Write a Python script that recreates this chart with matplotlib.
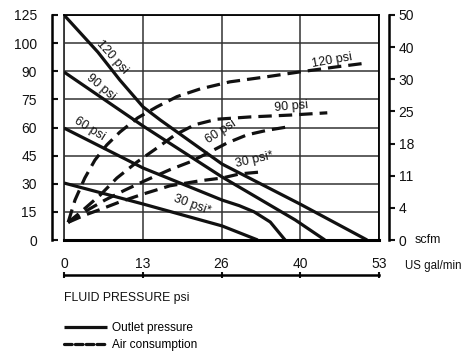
import numpy as np
import matplotlib
matplotlib.use("Agg")
import matplotlib.pyplot as plt
from matplotlib.lines import Line2D

plt.rcParams['font.family'] = ['Liberation Sans', 'DejaVu Sans']
plt.rcParams['font.size'] = 10

# axis labels (non-linear tick spacing in the original)
psi_ticks = [0, 15, 30, 45, 60, 75, 90, 100, 125]
scfm_ticks = [0, 4, 11, 18, 25, 30, 40, 50]
gpm_labels = ['0', '13', '26', '40', '53']

# outlet pressure (psi) vs flow (US gal/min)
out120_x = [0, 5.7, 9.4, 13.3, 16.2, 26.6, 39.7, 51.0]
out120_y = [125, 96.8, 85.3, 71, 64, 40.5, 19.2, 0]
out90_x = [0, 13.3, 26.6, 38.9, 43.9]
out90_y = [89.6, 60.8, 33.6, 10.7, 0]
out60_x = [0, 13.3, 26.6, 29.5, 32.0, 34.7, 37.2]
out60_y = [59.7, 38.4, 21.3, 18.3, 15.0, 9.6, 0]
out30_x = [0, 13.3, 26.6, 32.6]
out30_y = [30.4, 19.2, 7.5, 0]

# air consumption (scfm) vs flow (US gal/min)
air120_x = [0.7, 1.85, 3.5, 5.2, 7.2, 9.4, 12.4, 15.6, 19.0, 22.9, 27.9, 33.8, 39.7, 45.6, 51.1]
air120_y = [2.2, 5.7, 10.5, 14.4, 17.7, 20.5, 23.6, 25.7, 27.3, 28.5, 29.6, 30.7, 32.3, 33.8, 35.1]
air90_x = [0.7, 2.7, 6.1, 8.9, 12.3, 15.6, 18.7, 22.0, 25.7, 31.3, 38.0, 44.3]
air90_y = [2.2, 3.4, 6.8, 10.5, 14.0, 17.0, 19.9, 22.1, 23.3, 23.8, 24.2, 24.7]
air60_x = [0.7, 3.9, 6.9, 10.3, 13.6, 17.8, 21.2, 24.6, 27.4, 30.8, 34.2, 37.5]
air60_y = [2.2, 3.7, 5.7, 7.9, 9.9, 12.3, 14.0, 16.2, 18.1, 19.9, 20.9, 21.6]
air30_x = [0.7, 3.5, 6.1, 9.4, 13.3, 17.8, 22.9, 26.6, 29.6, 33.0]
air30_y = [2.2, 3.1, 3.8, 5.3, 7.0, 8.8, 9.9, 10.5, 11.4, 11.8]

W, H = 469, 353
fig = plt.figure(figsize=(W / 100, H / 100), dpi=100)
L, R, T, B = 64, 379, 15, 240
ax = fig.add_axes([L / W, (H - B) / H, (R - L) / W, (B - T) / H])

def scale_funcs(ticks):
    pos = np.arange(len(ticks), dtype=float)
    return (lambda v: np.interp(v, ticks, pos), lambda v: np.interp(v, pos, ticks))

ink = '#111111'
ax.set_yscale('function', functions=scale_funcs(psi_ticks))
ax.set_ylim(0, 125)
ax.set_xlim(0, 53)
xt = np.linspace(0, 53, 5)
ax.set_xticks(xt)
ax.set_yticks(psi_ticks)
ax.set_yticklabels([str(t) for t in psi_ticks])
ax.tick_params(axis='x', length=0, labelbottom=False)
ax.tick_params(axis='y', direction='in', length=4, width=1.5, pad=11, colors=ink)
ax.grid(True, color='#333333', lw=1.1)
for s in ['top', 'right']:
    ax.spines[s].set_linewidth(1.3)
ax.spines['bottom'].set_linewidth(2.2)
ax.spines['left'].set_position(('outward', 8.6))
ax.spines['left'].set_linewidth(1.8)
ax.axvline(0, color='#333333', lw=1.3, clip_on=False)

lw = 2.3
for x, y in [(out120_x, out120_y), (out90_x, out90_y), (out60_x, out60_y), (out30_x, out30_y)]:
    ax.plot(x, y, color=ink, lw=lw, solid_capstyle='butt', solid_joinstyle='round')

ax2 = ax.twinx()
ax2.set_yscale('function', functions=scale_funcs(scfm_ticks))
ax2.set_ylim(0, 50)
ax2.set_yticks(scfm_ticks)
ax2.set_yticklabels([str(t) for t in scfm_ticks])
for s in ['left', 'top', 'bottom']:
    ax2.spines[s].set_visible(False)
ax2.spines['right'].set_position(('outward', 7.2))
ax2.spines['right'].set_linewidth(1.8)
ax2.tick_params(axis='y', direction='out', length=4, width=1.5, pad=3, colors=ink)
for x, y in [(air120_x, air120_y), (air90_x, air90_y), (air60_x, air60_y), (air30_x, air30_y)]:
    ax2.plot(x, y, color=ink, lw=lw, dashes=(4.2, 2.2), dash_capstyle='butt')

# curve labels
labels = [("120 psi", 112, 57, -48), ("90 psi", 101, 87, -40), ("60 psi", 89, 129, -32),
          ("30 psi*", 192, 205, -20), ("60 psi", 221, 132, 33), ("30 psi*", 254, 160, 13),
          ("90 psi", 291, 107, 5), ("120 psi", 332, 61, 10)]
for txt, px, py, rot in labels:
    ax.text((px - L) / (R - L), (B - py) / (B - T), txt, transform=ax.transAxes, fontsize=9,
            rotation=rot, rotation_mode='anchor', ha='center', va='center', color=ink)

fig.text(415 / W, (H - 240) / H, 'scfm', ha='left', va='center', color=ink, fontsize=9)

# flow axis below
axb = fig.add_axes([L / W, (H - 275) / H, (R - L) / W, 0.001])
axb.set_xlim(0, 53)
axb.set_yticks([])
for s in ['left', 'right', 'bottom']:
    axb.spines[s].set_visible(False)
axb.spines['top'].set_linewidth(1.8)
axb.patch.set_visible(False)
axb.xaxis.tick_top()
axb.set_xticks(xt)
axb.set_xticklabels(gpm_labels)
axb.tick_params(axis='x', direction='inout', length=4, width=1.5, pad=0.5, colors=ink)
fig.text(405 / W, (H - 266) / H, 'US gal/min', ha='left', va='center', color=ink, fontsize=8.3)
fig.text(L / W, (H - 298) / H, 'FLUID PRESSURE psi', ha='left', va='center', color=ink, fontsize=8.8)

handles = [Line2D([], [], color=ink, lw=lw, solid_capstyle='butt'),
           Line2D([], [], color=ink, lw=lw, dashes=(2.4, 1.0), dash_capstyle='round')]
fig.legend(handles, ['Outlet pressure', 'Air consumption'], loc='upper left',
           bbox_to_anchor=(L / W, (H - 322) / H), frameon=False, borderaxespad=0, borderpad=0,
           handlelength=3.6, handletextpad=0.45, labelspacing=0.45, fontsize=8.6)

fig.savefig('out.png', dpi=100)
